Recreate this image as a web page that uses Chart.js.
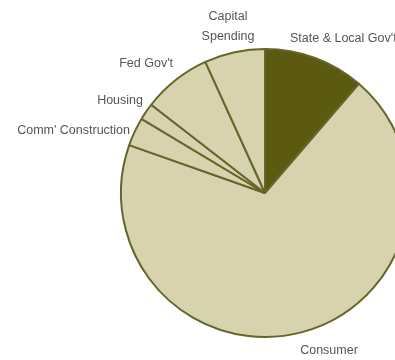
<!DOCTYPE html>
<html>
<head>
<meta charset="utf-8">
<script src="https://cdn.jsdelivr.net/npm/chart.js@4/dist/chart.umd.min.js"></script>
<style>
  html, body { margin: 0; padding: 0; background: #fff; overflow: hidden; }
  #wrap { width: 430px; height: 360px; }
</style>
</head>
<body>
<div id="wrap"><canvas id="chart-pie" width="430" height="360"></canvas></div>
<script>
const categories = ["State & Local Gov't", "Consumer", "Comm' Construction", "Housing", "Fed Gov't", "Capital Spending"];
const shares = [11.3, 69.1, 3.2, 1.9, 7.7, 6.8];
const colors = ["#5b5a0e", "#d6d3ae", "#d6d3ae", "#d6d3ae", "#d6d3ae", "#d6d3ae"];

// label text placements (x, y, align)
const labelSpots = [
    { text: ["State & Local Gov't"], x: 290, y: 39, align: "left" },
    { text: ["Consumer"], x: 329, y: 351, align: "center" },
    { text: ["Comm' Construction"], x: 130, y: 131, align: "right" },
    { text: ["Housing"], x: 143, y: 101, align: "right" },
    { text: ["Fed Gov't"], x: 173, y: 64, align: "right" },
    { text: ["Capital", "Spending"], x: 228, y: 17, align: "center" },
];

const sliceLabels = {
    id: 'sliceLabels',
    afterDraw(chart) {
        const ctx = chart.ctx;
        ctx.save();
        ctx.fillStyle = '#555';
        ctx.font = '12.5px "Liberation Sans Narrow", "Liberation Sans", sans-serif';
        ctx.textBaseline = 'middle';
        labelSpots.forEach(l => {
            ctx.textAlign = l.align;
            l.text.forEach((t, i) => ctx.fillText(t, l.x, l.y + i * 20));
        });
        ctx.restore();
    }
};

let chart = new Chart('chart-pie', {
    type: 'pie',
    data: {
        labels: categories,
        datasets: [{
            data: shares,
            backgroundColor: colors,
            borderColor: '#66652a',
            borderWidth: 2
        }]
    },
    options: {
        responsive: false,
        animation: false,
        layout: { padding: { left: 120, right: 20, top: 48, bottom: 22 } },
        plugins: {
            legend: { display: false },
            tooltip: { enabled: false }
        }
    },
    plugins: [sliceLabels]
});
</script>
</body>
</html>
